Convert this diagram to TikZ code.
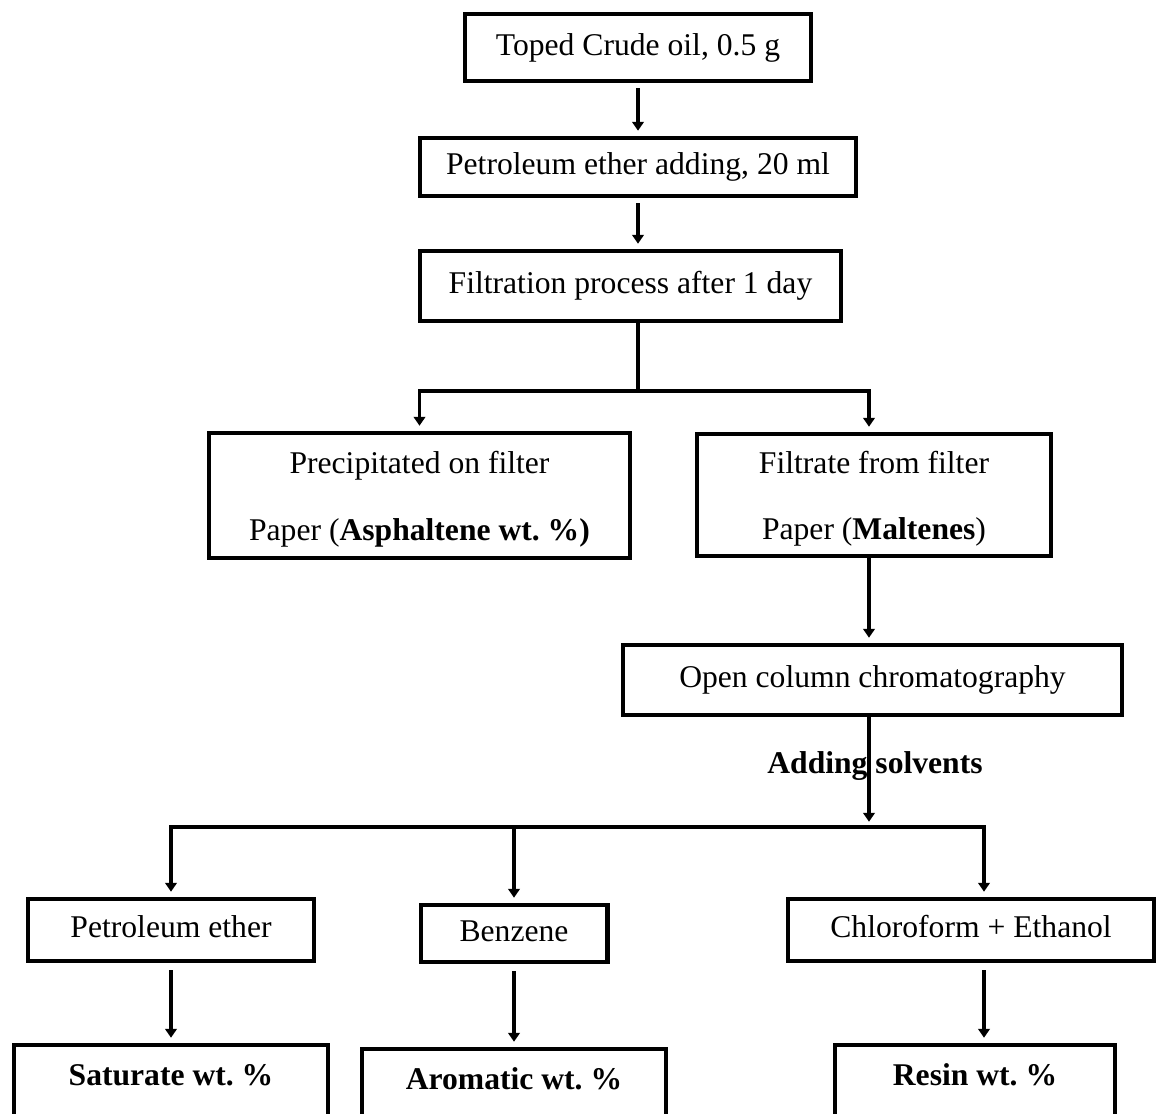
\documentclass[tikz,border=0pt]{standalone}
\usepackage{fontspec}
\setmainfont{Liberation Serif}
\usetikzlibrary{arrows.meta}
\frenchspacing

\tikzset{
  stepbox/.style={draw, rectangle, line width=2.3pt, inner sep=0pt, align=center,
    text height=2.2ex, text depth=.3ex, font=\fontsize{18}{22}\selectfont},
  twoline/.style={font=\fontsize{18}{38}\selectfont, text height=, text depth=},
  openbox/.style={stepbox, anchor=north, text height=0.8cm, text depth=0.9cm},
  flow/.style={line width=2pt, -{Triangle[length=5pt,width=6.5pt]}, shorten >=3pt},
  joint/.style={line width=2pt},
}
\newcommand{\lowstrut}{\rule{0pt}{17pt}}

\begin{document}
\begin{tikzpicture}[x=0.02cm, y=-0.02cm]
  \useasboundingbox (0,0) rectangle (1159,1114);

  % main line
  \node[stepbox, minimum width=6.94cm, minimum height=1.34cm] (crude) at (638,47.5) {Toped Crude oil, 0.5 g};
  \node[stepbox, minimum width=8.72cm, minimum height=1.16cm] (ether) at (638,167) {Petroleum ether adding, 20 ml};
  \node[stepbox, minimum width=8.42cm, minimum height=1.40cm] (filtr) at (630.5,286) {Filtration process after 1 day};

  \node[stepbox, twoline, minimum width=8.42cm, minimum height=2.50cm] (asph) at (419.5,495.5)
    {\lowstrut Precipitated on filter\\Paper (\textbf{Asphaltene wt. \%)}};
  \node[stepbox, twoline, minimum width=7.08cm, minimum height=2.44cm] (malt) at (874,495)
    {\lowstrut Filtrate from filter\\Paper (\textbf{Maltenes})};

  \node[stepbox, minimum width=9.98cm, minimum height=1.40cm] (column) at (872.5,680) {Open column chromatography};
  \node[font=\fontsize{18}{22}\selectfont\bfseries] (solv) at (875,766) {Adding solvents};

  % solvents
  \node[stepbox, minimum width=5.74cm, minimum height=1.24cm] (pe) at (171,930) {Petroleum ether};
  \node[stepbox, minimum width=3.74cm, minimum height=1.14cm] (benz) at (514,933.5) {Benzene};
  \node[stepbox, minimum width=7.32cm, minimum height=1.24cm] (chl) at (971,930) {Chloroform + Ethanol};

  % fractions
  \node[openbox, minimum width=6.28cm] (sat) at (171,1043) {\textbf{Saturate wt. \%}};
  \node[openbox, minimum width=6.08cm] (arom) at (514,1047) {\textbf{Aromatic wt. \%}};
  \node[openbox, minimum width=5.60cm] (resin) at (975,1043) {\textbf{Resin wt. \%}};

  \coordinate (f1) at (638,391);
  \coordinate (mx) at (869,391);
  \coordinate (f2) at (869,827);
  \coordinate (cx) at (984,827);

  \draw[flow, shorten <=3pt] (crude) -- (ether);
  \draw[flow, shorten <=3pt] (ether.south) -- (ether.south |- filtr.north);
  \draw[joint] (f1 |- filtr.south) -- (f1);
  \draw[flow] (f1) -| (asph.north);
  \draw[flow] (f1) -- (mx) -- (mx |- malt.north);
  \draw[flow] (mx |- malt.south) -- (mx |- column.north);
  \draw[flow] (mx |- column.south) -- (f2);
  \draw[flow] (f2) -| (pe.north);
  \draw[flow] (benz.north |- f2) -- (benz.north);
  \draw[flow] (f2) -- (cx) -- (cx |- chl.north);

  \draw[flow, shorten <=4pt] (pe) -- (sat);
  \draw[flow, shorten <=4pt] (benz) -- (arom);
  \draw[flow, shorten <=4pt] (cx |- chl.south) -- (cx |- resin.north);
\end{tikzpicture}
\end{document}
